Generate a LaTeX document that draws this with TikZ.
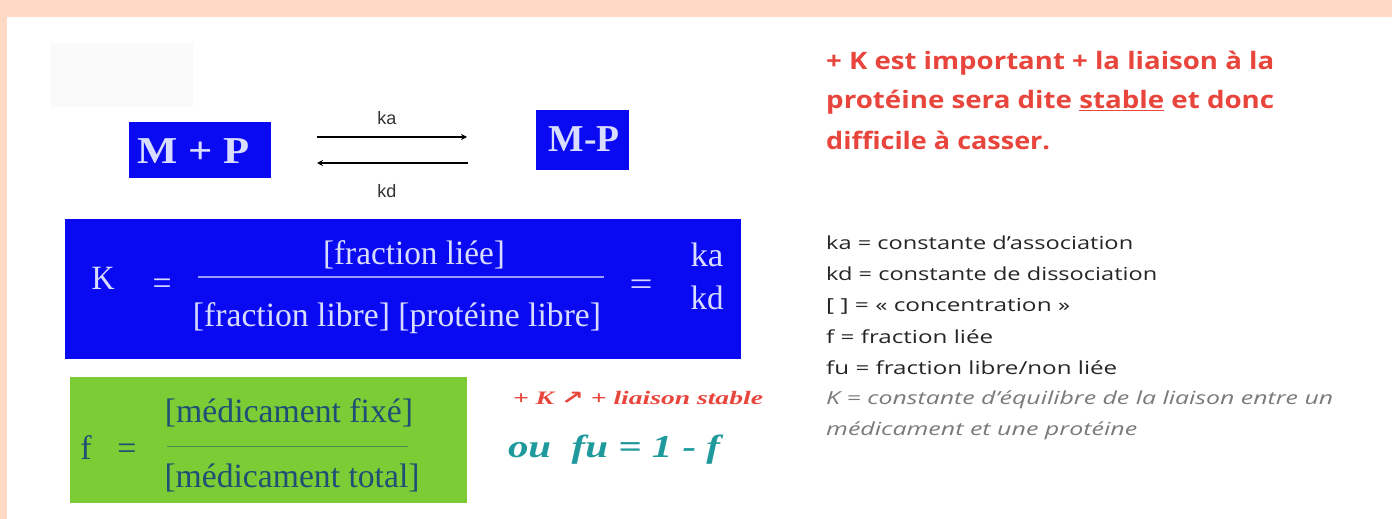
\documentclass[tikz,border=0pt]{standalone}
\usepackage{fontspec}
\setmainfont{Liberation Serif}
\newfontfamily\osans{Open Sans}
\newfontfamily\djv{DejaVu Sans}
\usetikzlibrary{arrows.meta}
\newcommand\fitw[2]{\resizebox{#1}{\height}{#2}}
\definecolor{peach}{HTML}{FFD9C4}
\definecolor{bblue}{HTML}{0A0AF2}
\definecolor{boxtext}{HTML}{D8DCFF}
\definecolor{lgreen}{HTML}{7BCC35}
\definecolor{gtext}{HTML}{1F4F74}
\definecolor{redtxt}{HTML}{E8453C}
\definecolor{teal2}{HTML}{1F9A9C}
\definecolor{grytxt}{HTML}{7A7A7A}
\tikzset{
  bluebox/.style={fill=bblue, inner sep=0pt, anchor=north west},
  boxlbl/.style={text=boxtext, font=\fontsize{38}{40}\selectfont\bfseries, inner sep=0pt},
  ftext/.style={text=boxtext, font=\fontsize{34}{36}\selectfont, inner sep=0pt},
  gfrac/.style={text=gtext, font=\fontsize{34}{36}\selectfont, inner sep=0pt},
  legend/.style={font=\osans\fontsize{18}{20}\selectfont, text=black!85, inner sep=0pt, anchor=west},
  legendit/.style={font=\osans\itshape\fontsize{18}{20}\selectfont, text=grytxt, inner sep=0pt, anchor=west},
  redline/.style={font=\osans\bfseries\fontsize{24}{26}\selectfont, text=redtxt, inner sep=0pt, anchor=west},
  small/.style={font=\fontspec{Liberation Sans}\fontsize{18}{20}\selectfont, text=black!80, inner sep=0pt},
  rxn/.style={line width=1.8pt, -{Stealth[length=6pt,width=6pt]}},
}
\begin{document}
\begin{tikzpicture}[x=1pt,y=-1pt]
\path[fill=peach] (0,0) rectangle (1392,519);
\path[fill=white] (7,17) rectangle (1392,519);
\path[fill=black!2] (50,43) rectangle (193,107);
\useasboundingbox (0,0) rectangle (1392,519);

% reaction
\node[bluebox, minimum width=142pt, minimum height=56pt] (mp) at (129,122) {};
\node[boxlbl] (mptxt) at (194,151) {\fitw{112pt}{M + P}};
\node[bluebox, minimum width=93pt, minimum height=60pt] (mpc) at (536,110) {};
\node[boxlbl] (mpctxt) at (584,139) {\fitw{71pt}{M-P}};
\coordinate (a1) at (317,137);
\coordinate (a2) at (467,137);
\coordinate (b1) at (468,163);
\coordinate (b2) at (317,163);
\draw[rxn] (a1) -- (a2);
\draw[rxn] (b1) -- (b2);
\node[small] (ka) at (387,118) {ka};
\node[small] (kd) at (387,191) {kd};

% K box
\node[bluebox, minimum width=676pt, minimum height=140pt] (kbox) at (65,219) {};
\node[ftext] (K) at (103,278) {\fitw{23pt}{K}};
\node[ftext] (eq1) at (162,287) {\fitw{19pt}{=}};
\node[ftext] (num) at (414,255) {\fitw{182pt}{[fraction liée]}};
\node[ftext] (den) at (397,318) {\fitw{408pt}{[fraction libre] [protéine libre]}};
\coordinate (l1) at (198,277);
\coordinate (l2) at (604,277);
\draw[boxtext!70!bblue, line width=1.2pt] (l1) -- (l2);
\node[ftext] (eq2) at (641,288) {\fitw{23pt}{=}};
\node[ftext] (kka) at (707,255) {\fitw{33pt}{ka}};
\node[ftext] (kkd) at (707,298) {\fitw{33pt}{kd}};

% f box
\node[fill=lgreen, inner sep=0pt, anchor=north west, minimum width=397pt, minimum height=126pt] (fbox) at (70,377) {};
\node[gfrac] (f) at (86,448) {f};
\node[gfrac] (eq3) at (127,452) {=};
\node[gfrac] (fnum) at (289,413) {\fitw{248pt}{[médicament fixé]}};
\node[gfrac] (fden) at (292,478) {\fitw{255pt}{[médicament total]}};
\coordinate (m1) at (167,446);
\coordinate (m2) at (408,446);
\draw[gtext!50!lgreen, line width=1pt] (m1) -- (m2);

% side formulas
\node[text=redtxt, font=\bfseries\itshape\fontsize{19}{21}\selectfont, inner sep=0pt] (kup) at (638,398) {\fitw{250pt}{+ K {\djv\bfseries ↗} + liaison stable}};
\node[text=teal2, font=\bfseries\itshape\fontsize{32}{34}\selectfont, inner sep=0pt] (fu) at (614,450) {\fitw{212pt}{ou \ fu = 1 - f}};

% right red text
\node[redline] (r1) at (826,63) {\fitw{448pt}{+ K est important + la liaison à la}};
\node[redline] (r2) at (826,102) {\fitw{448pt}{protéine sera dite \underline{stable} et donc}};
\node[redline] (r3) at (826,140) {\fitw{224pt}{difficile à casser.}};

% legend
\node[legend] (g1) at (826,243) {\fitw{307pt}{ka = constante d’association}};
\node[legend] (g2) at (826,274) {\fitw{331pt}{kd = constante de dissociation}};
\node[legend] (g3) at (826,306) {\fitw{244pt}{[ ] = « concentration »}};
\node[legend] (g4) at (826,337) {\fitw{167pt}{f = fraction liée}};
\node[legend] (g5) at (826,368) {\fitw{291pt}{fu = fraction libre/non liée}};
\node[legendit] (g6) at (826,400) {\fitw{507pt}{K = constante d’équilibre de la liaison entre un}};
\node[legendit] (g7) at (826,431) {\fitw{311pt}{médicament et une protéine}};
\end{tikzpicture}
\end{document}
